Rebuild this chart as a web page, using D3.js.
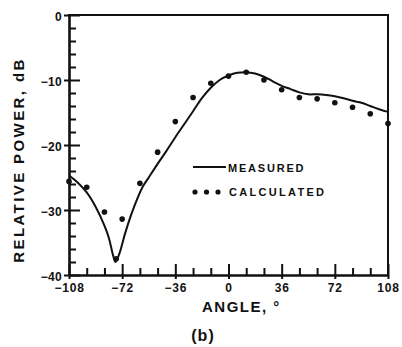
<!DOCTYPE html>
<html>
<head>
<meta charset="utf-8">
<script src="https://cdn.jsdelivr.net/npm/d3@7"></script>
<style>
  html, body { margin: 0; padding: 0; background: #fff; }
  svg { display: block; }
  text { font-family: "Liberation Sans", Arial, sans-serif; font-weight: bold; fill: #111; }
</style>
</head>
<body>
<svg id="chart" width="402" height="347"></svg>
<script>
// Measured radiation pattern (angle in degrees, relative power in dB)
const measuredAngle = [-108, -102, -96, -90, -84, -81, -78, -76.5, -74, -70, -66, -62, -58, -54, -48, -42, -36, -30, -24, -18, -12, -6, 0, 6, 12, 18, 24, 30, 36, 42, 48, 54, 60, 66, 72, 78, 84, 90, 96, 102, 108];
const measuredDb = [-24.7, -25.8, -27.3, -29.5, -32.4, -34.3, -37.1, -38.0, -36.8, -33.6, -30.8, -28.4, -26.4, -25.0, -22.9, -20.9, -18.8, -16.8, -14.8, -12.8, -11.2, -10.0, -9.3, -8.9, -8.8, -9.0, -9.5, -10.2, -10.9, -11.4, -11.9, -12.2, -12.2, -12.3, -12.5, -12.8, -13.2, -13.5, -14.0, -14.5, -14.9];

// Calculated pattern points
const calcAngle = [-108, -96, -84, -76, -72, -60, -48, -36, -24, -12, 0, 12, 24, 36, 48, 60, 72, 84, 96, 108];
const calcDb = [-25.6, -26.5, -30.3, -37.5, -31.4, -25.9, -21.1, -16.4, -12.7, -10.5, -9.4, -8.8, -10.0, -11.5, -12.7, -12.9, -13.5, -14.2, -15.2, -16.7];

// Axis ticks and labels
const xMajorTicks = [-108, -72, -36, 0, 36, 72, 108];
const xMinorTicks = [-96, -84, -60, -48, -24, -12, 12, 24, 48, 60, 84, 96];
const yMajorTicks = [0, -10, -20, -30, -40];
const yMinorTicks = [-2, -4, -6, -8, -12, -14, -16, -18, -22, -24, -26, -28, -32, -34, -36, -38];
const fmt = d => (d < 0 ? "\u2212" + Math.abs(d) : String(d));

const legendLabels = ["MEASURED", "CALCULATED"];
const xTitle = "ANGLE, \u00B0";
const yTitle = "RELATIVE POWER, dB";
const panelLabel = "(b)";

const svg = d3.select("#chart");
const plotLeft = 69, plotRight = 388, plotTop = 15, plotBottom = 275;

const x = d3.scaleLinear().domain([-108, 108]).range([plotLeft, plotRight]);
const y = d3.scaleLinear().domain([-40, 0]).range([plotBottom, plotTop]);

// Frame (top and right edges)
svg.append("line").attr("x1", plotLeft - 1).attr("x2", plotRight).attr("y1", plotTop).attr("y2", plotTop)
  .attr("stroke", "#111").attr("stroke-width", 2);
svg.append("line").attr("x1", plotRight).attr("x2", plotRight).attr("y1", plotTop - 1).attr("y2", plotBottom)
  .attr("stroke", "#111").attr("stroke-width", 2);

// Left axis: minor ticks pointing inward
svg.append("g").attr("transform", `translate(${plotLeft},0)`)
  .call(d3.axisLeft(y).tickValues(yMinorTicks).tickSizeInner(-7).tickSizeOuter(0).tickFormat(""))
  .call(g => g.select(".domain").remove())
  .call(g => g.selectAll(".tick line").attr("stroke", "#111").attr("stroke-width", 2));

// Left axis: major ticks crossing the axis, with labels
svg.append("g").attr("transform", `translate(${plotLeft},0)`)
  .call(d3.axisLeft(y).tickValues(yMajorTicks).tickSizeOuter(0).tickFormat(fmt))
  .call(g => g.select(".domain").attr("stroke", "#111").attr("stroke-width", 2.6))
  .call(g => g.selectAll(".tick line").attr("x1", -5).attr("x2", 11).attr("stroke", "#111").attr("stroke-width", 2))
  .call(g => g.selectAll(".tick text").attr("x", -7).attr("y", 2)
    .style("font-size", "12px").style("letter-spacing", "0.3px").attr("font-family", null));

// Bottom axis: minor ticks pointing inward
svg.append("g").attr("transform", `translate(0,${plotBottom})`)
  .call(d3.axisBottom(x).tickValues(xMinorTicks).tickSizeInner(-7).tickSizeOuter(0).tickFormat(""))
  .call(g => g.select(".domain").remove())
  .call(g => g.selectAll(".tick line").attr("stroke", "#111").attr("stroke-width", 2));

// Bottom axis: major ticks crossing the axis, with labels
svg.append("g").attr("transform", `translate(0,${plotBottom})`)
  .call(d3.axisBottom(x).tickValues(xMajorTicks).tickSizeOuter(0).tickFormat(fmt))
  .call(g => g.select(".domain").attr("stroke", "#111").attr("stroke-width", 2.6))
  .call(g => g.selectAll(".tick line").attr("y1", 4).attr("y2", -11).attr("stroke", "#111").attr("stroke-width", 2))
  .call(g => g.selectAll(".tick text").attr("y", 8)
    .style("font-size", "12px").style("letter-spacing", "0.8px").attr("font-family", null));

// Measured curve
const measured = measuredAngle.map((a, i) => [a, measuredDb[i]]);
svg.append("path")
  .datum(measured)
  .attr("fill", "none")
  .attr("stroke", "#111")
  .attr("stroke-width", 2)
  .attr("stroke-linejoin", "round")
  .attr("d", d3.line().x(d => x(d[0])).y(d => y(d[1])).curve(d3.curveCatmullRom.alpha(0.5)));

// Calculated points
const calc = calcAngle.map((a, i) => [a, calcDb[i]]);
svg.append("g").selectAll("circle")
  .data(calc)
  .join("circle")
  .attr("cx", d => x(d[0]))
  .attr("cy", d => y(d[1]))
  .attr("r", 2.8)
  .attr("fill", "#111");

// Legend
const legend = svg.append("g");
legend.append("line").attr("x1", 193).attr("x2", 226).attr("y1", 167).attr("y2", 167)
  .attr("stroke", "#111").attr("stroke-width", 2);
legend.append("text").attr("x", 228).attr("y", 172).text(legendLabels[0])
  .style("font-size", "11px").style("letter-spacing", "1.8px");
[195, 206.5, 218].forEach(cx => {
  legend.append("circle").attr("cx", cx).attr("cy", 192).attr("r", 2.6).attr("fill", "#111");
});
legend.append("text").attr("x", 229).attr("y", 196).text(legendLabels[1])
  .style("font-size", "11px").style("letter-spacing", "2.3px");

// Axis titles
svg.append("text").attr("x", 202).attr("y", 312).text(xTitle)
  .style("font-size", "15px").style("letter-spacing", "1.5px");
svg.append("text")
  .attr("transform", "translate(24,160) rotate(-90)")
  .attr("text-anchor", "middle")
  .text(yTitle)
  .style("font-size", "15px").style("letter-spacing", "2.4px");

// Panel label
svg.append("text").attr("x", 203).attr("y", 341).attr("text-anchor", "middle").text(panelLabel)
  .style("font-size", "16px").style("letter-spacing", "1px");
</script>
</body>
</html>
